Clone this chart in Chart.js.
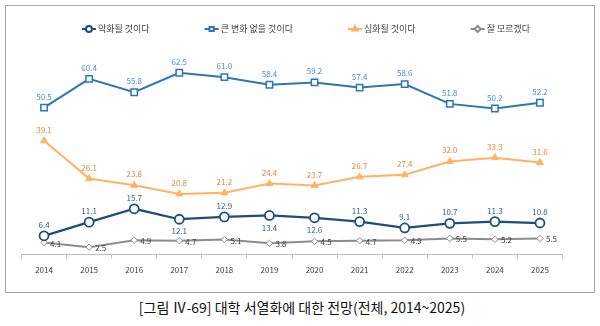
<!DOCTYPE html>
<html>
<head>
<meta charset="utf-8">
<script src="https://cdn.jsdelivr.net/npm/chart.js@4.4.1/dist/chart.umd.min.js"></script>
<style>
  body { margin: 0; background: #fff; width: 600px; height: 326px; position: relative; overflow: hidden; }
  #frame { position: absolute; left: 5px; top: 5px; width: 588px; height: 286px; border: 1px solid #a6a6a6; }
  #wrap { position: absolute; left: 0; top: 0; width: 600px; height: 296px; }
  #caption { position: absolute; left: 0; top: 297px; width: 604px; text-align: center;
             font-family: "Noto Sans CJK KR", sans-serif; font-size: 14px; color: #111; }
</style>
</head>
<body>
<div id="frame"></div>
<div id="wrap"><canvas id="chart"></canvas></div>
<div id="caption">[그림 Ⅳ-69] 대학 서열화에 대한 전망(전체, 2014~2025)</div>
<script>
const years = ["2014", "2015", "2016", "2017", "2018", "2019", "2020", "2021", "2022", "2023", "2024", "2025"];
const seriesNames = ["악화될 것이다", "큰 변화 없을 것이다", "심화될 것이다", "잘 모르겠다"];
const worse = [6.4, 11.1, 15.7, 12.1, 12.9, 13.4, 12.6, 11.3, 9.1, 10.7, 11.3, 10.8];
const noChange = [50.5, 60.4, 55.8, 62.5, 61.0, 58.4, 59.2, 57.4, 58.6, 51.8, 50.2, 52.2];
const deepen = [39.1, 26.1, 23.8, 20.8, 21.2, 24.4, 23.7, 26.7, 27.4, 32.0, 33.3, 31.6];
const unknown = [4.1, 2.5, 4.9, 4.7, 5.1, 3.8, 4.5, 4.7, 4.9, 5.5, 5.2, 5.5];

// 라벨을 점 아래에 두는 항목 (악화될 것이다)
const worseBelow = [3, 5, 6];

const FONT = '"Noto Sans CJK KR", sans-serif';

const datasets = [
    {
        label: seriesNames[0], data: worse,
        borderColor: "#1f4e79", backgroundColor: "#ffffff", borderWidth: 2.25,
        pointStyle: "circle", pointRadius: 4.5, pointBorderWidth: 1.8,
        labelColor: "#2f5f8f", labelPos: (i) => worseBelow.includes(i) ? "below" : "above"
    },
    {
        label: seriesNames[1], data: noChange,
        borderColor: "#2e75b6", backgroundColor: "#ffffff", borderWidth: 2,
        pointStyle: "rect", pointRadius: 4.5, pointBorderWidth: 1.5,
        labelColor: "#4a8ccc", labelPos: () => "above"
    },
    {
        label: seriesNames[2], data: deepen,
        borderColor: "#fdb462", backgroundColor: "#fdb462", borderWidth: 2,
        pointStyle: "triangle", pointRadius: 4, pointBorderWidth: 1,
        labelColor: "#e8853a", labelPos: () => "above"
    },
    {
        label: seriesNames[3], data: unknown,
        borderColor: "#8c8c8c", backgroundColor: "#ffffff", borderWidth: 2,
        pointStyle: "rectRot", pointRadius: 3.2, pointBorderWidth: 1,
        labelColor: "#404040", labelPos: () => "right"
    }
];

// 값 라벨
const valueLabels = {
    id: "valueLabels",
    afterDatasetsDraw(chart) {
        const ctx = chart.ctx;
        ctx.save();
        ctx.font = "8px " + FONT;
        chart.data.datasets.forEach((ds, di) => {
            const meta = chart.getDatasetMeta(di);
            meta.data.forEach((pt, i) => {
                const txt = ds.data[i].toFixed(1);
                const pos = ds.labelPos(i);
                ctx.fillStyle = ds.labelColor;
                ctx.textBaseline = "middle";
                if (pos === "right") {
                    ctx.textAlign = "left";
                    ctx.fillText(txt, pt.x + 6, pt.y + 1);
                } else if (pos === "below") {
                    ctx.textAlign = "center";
                    ctx.fillText(txt, pt.x, pt.y + 12);
                } else {
                    ctx.textAlign = "center";
                    ctx.fillText(txt, pt.x, pt.y - 11);
                }
            });
        });
        ctx.restore();
    }
};

// 범례 (선 + 마커)
const lineLegend = {
    id: "lineLegend",
    afterDraw(chart) {
        const ctx = chart.ctx;
        const y = 29, gap = 55, iconW = 14;
        ctx.save();
        ctx.font = "9px " + FONT;
        const widths = chart.data.datasets.map(ds => iconW + 2 + ctx.measureText(ds.label).width);
        const total = widths.reduce((a, b) => a + b, 0) + gap * (widths.length - 1);
        let x = 306 - total / 2;
        chart.data.datasets.forEach((ds, i) => {
            ctx.strokeStyle = ds.borderColor;
            ctx.lineWidth = 2;
            ctx.beginPath();
            ctx.moveTo(x, y);
            ctx.lineTo(x + iconW, y);
            ctx.stroke();
            ctx.fillStyle = ds.backgroundColor;
            Chart.helpers.drawPoint(ctx, {
                pointStyle: ds.pointStyle, radius: 3, rotation: 0, borderWidth: 1.2
            }, x + iconW / 2, y);
            ctx.fillStyle = "#404040";
            ctx.textAlign = "left";
            ctx.textBaseline = "middle";
            ctx.fillText(ds.label, x + iconW + 2, y);
            x += widths[i] + gap;
        });
        ctx.restore();
    }
};

new Chart(document.getElementById("chart"), {
    type: "line",
    data: { labels: years, datasets: datasets },
    options: {
        responsive: true,
        maintainAspectRatio: false,
        animation: false,
        layout: { padding: { left: 21.5, right: 37.5, top: 51, bottom: 14 } },
        plugins: {
            legend: { display: false },
            tooltip: { enabled: false }
        },
        elements: { line: { tension: 0 } },
        scales: {
            x: {
                offset: true,
                grid: { offset: true, drawOnChartArea: false, tickLength: 4, color: "#bfbfbf" },
                border: { display: true, color: "#bfbfbf", width: 1 },
                ticks: { color: "#404040", font: { family: FONT, size: 8 }, padding: 7 }
            },
            y: {
                display: false,
                min: 0,
                max: 70
            }
        }
    },
    plugins: [valueLabels, lineLegend]
});
</script>
</body>
</html>
